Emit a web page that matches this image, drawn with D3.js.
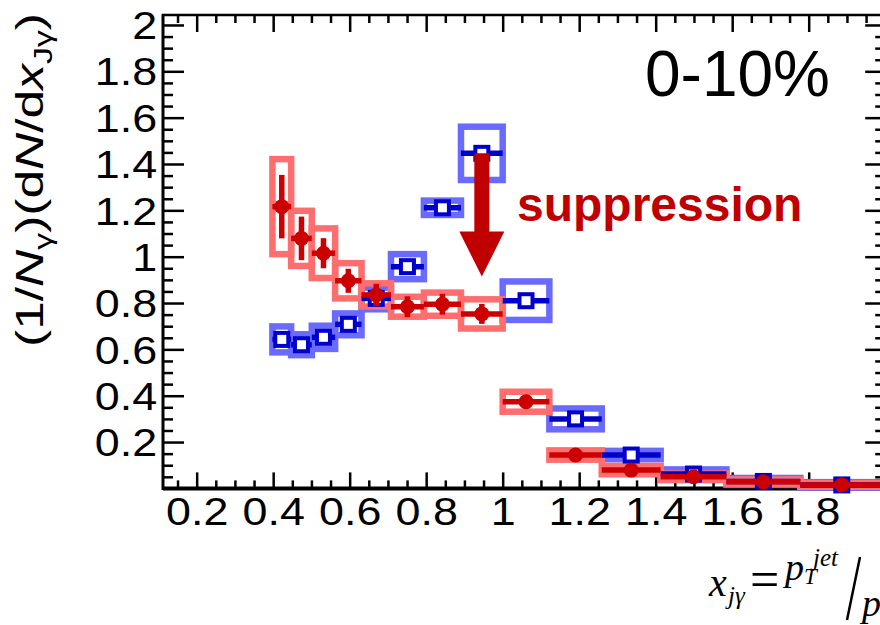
<!DOCTYPE html>
<html>
<head>
<meta charset="utf-8">
<script src="https://cdn.jsdelivr.net/npm/d3@7"></script>
<style>
  html, body { margin: 0; padding: 0; background: #fff; overflow: hidden; }
  svg { display: block; }
  text { font-family: "Liberation Sans", Arial, Helvetica, sans-serif; }
  text.math { font-family: "Liberation Serif", "Times New Roman", serif; font-style: italic; }
  text.math.up { font-style: normal; }
</style>
</head>
<body>
<svg id="chart" width="880" height="625"></svg>
<script>
// x_Jγ bins (lower / upper edges)
const binLo = [0.398, 0.447, 0.501, 0.562, 0.631, 0.708, 0.794, 0.891, 1.000, 1.122, 1.259, 1.413, 1.585, 1.778];
const binHi = [0.447, 0.501, 0.562, 0.631, 0.708, 0.794, 0.891, 1.000, 1.122, 1.259, 1.413, 1.585, 1.778, 1.995];

// Pb+Pb 0-10% (red, filled circles)
const redVal  = [1.216, 1.079, 1.015, 0.896, 0.835, 0.784, 0.795, 0.753, 0.374, 0.144, 0.079, 0.050, 0.029, 0.015];
const redStat = [0.137, 0.094, 0.065, 0.052, 0.048, 0.045, 0.045, 0.043, 0.020, 0.010, 0.008, 0.006, 0.005, 0.004];
const redSys  = [0.205, 0.119, 0.107, 0.076, 0.050, 0.043, 0.050, 0.063, 0.043, 0.020, 0.018, 0.014, 0.010, 0.008];

// pp reference (blue, open squares)
const blueVal  = [0.643, 0.620, 0.652, 0.708, 0.820, 0.957, 1.211, 1.446, 0.810, 0.300, 0.144, 0.062, 0.030, 0.015];
const blueStat = [0.020, 0.020, 0.020, 0.020, 0.020, 0.020, 0.020, 0.020, 0.020, 0.015, 0.010, 0.008, 0.006, 0.005];
const blueSys  = [0.056, 0.045, 0.050, 0.047, 0.047, 0.054, 0.031, 0.115, 0.083, 0.045, 0.018, 0.020, 0.015, 0.012];

// axis tick labels
const xTickLabels = [0.2, 0.4, 0.6, 0.8, 1, 1.2, 1.4, 1.6, 1.8];
const yTickLabels = [0.2, 0.4, 0.6, 0.8, 1, 1.2, 1.4, 1.6, 1.8, 2];

// annotation: drop from the pp peak
const arrowFrom = 1.446, arrowTo = 0.914, arrowBin = 7;

const svg = d3.select("#chart");
const x = d3.scaleLinear().domain([0.112, 2.0]).range([163, 885.2]);
const y = d3.scaleLinear().domain([0, 2.043]).range([488.4, 15]);

const COL = {
  redBox: "#ff6e6e", red: "#cc0000",
  blueBox: "#6a6aff", blue: "#0000cc",
  note: "#c00000"
};

const series = (vals, stat, sys) => vals.map((v, i) => ({
  lo: binLo[i], hi: binHi[i], c: (binLo[i] + binHi[i]) / 2, v, stat: stat[i], sys: sys[i]
}));
const red = series(redVal, redStat, redSys);
const blue = series(blueVal, blueStat, blueSys);

// ---- axes (ticks on all four sides, pointing inward) ----
const minorX = d3.range(3, 40).map(k => +(k * 0.05).toFixed(2)).filter(v => Math.abs(v * 5 - Math.round(v * 5)) > 1e-6);
const minorY = d3.range(1, 41).map(k => +(k * 0.05).toFixed(2)).filter(v => Math.abs(v * 5 - Math.round(v * 5)) > 1e-6);
const majorXAll = xTickLabels.concat([2.0]);

function addAxis(axis, tx, ty) {
  const g = svg.append("g").attr("transform", `translate(${tx},${ty})`).call(axis);
  g.select(".domain").remove();
  g.selectAll(".tick line").attr("stroke", "#000").attr("stroke-width", 2.5);
  return g;
}
const fmt = d3.format("~g");

// bottom
const gb = addAxis(d3.axisBottom(x).tickValues(xTickLabels).tickSize(-16).tickPadding(10).tickFormat(fmt), 0, 488.4);
addAxis(d3.axisBottom(x).tickValues(minorX).tickSize(-8).tickFormat(""), 0, 488.4);
// top
addAxis(d3.axisTop(x).tickValues(majorXAll).tickSize(-17).tickFormat(""), 0, 15);
addAxis(d3.axisTop(x).tickValues(minorX).tickSize(-8).tickFormat(""), 0, 15);
// left
const gl = addAxis(d3.axisLeft(y).tickValues(yTickLabels).tickSize(-21).tickPadding(5).tickFormat(fmt), 163, 0);
addAxis(d3.axisLeft(y).tickValues(minorY).tickSize(-10).tickFormat(""), 163, 0);
// right
addAxis(d3.axisRight(y).tickValues(yTickLabels).tickSize(-20).tickFormat(""), 885.2, 0);
addAxis(d3.axisRight(y).tickValues(minorY).tickSize(-10).tickFormat(""), 885.2, 0);

[gb, gl].forEach(g => g.selectAll(".tick text")
  .attr("font-family", "'Liberation Sans', Arial, sans-serif")
  .attr("font-size", 38).attr("fill", "#000"));
gb.selectAll(".tick text").attr("transform", "scale(1.18,1)");
gl.selectAll(".tick text").attr("dy", "0.36em").attr("transform", "scale(1.18,1)");

// frame
svg.append("line").attr("x1", 163).attr("x2", 886).attr("y1", 488.4).attr("y2", 488.4).attr("stroke", "#000").attr("stroke-width", 4);
svg.append("line").attr("x1", 163).attr("x2", 163).attr("y1", 14).attr("y2", 490).attr("stroke", "#000").attr("stroke-width", 3);
svg.append("line").attr("x1", 162).attr("x2", 886).attr("y1", 15).attr("y2", 15).attr("stroke", "#000").attr("stroke-width", 2.5);
svg.append("line").attr("x1", 885.2).attr("x2", 885.2).attr("y1", 15).attr("y2", 488).attr("stroke", "#000").attr("stroke-width", 3);

// ---- data ----
const plot = svg.append("g");

function boxes(data, color) {
  plot.append("g").selectAll("rect").data(data).join("rect")
    .attr("x", d => x(d.lo)).attr("width", d => x(d.hi) - x(d.lo))
    .attr("y", d => y(d.v + d.sys)).attr("height", d => y(d.v - d.sys) - y(d.v + d.sys))
    .attr("fill", "none").attr("stroke", color).attr("stroke-width", 6.5);
}
function errorBars(data, color) {
  const g = plot.append("g").attr("stroke", color).attr("stroke-width", 5.5);
  g.selectAll("line.h").data(data).join("line").attr("class", "h")
    .attr("x1", d => x(d.lo)).attr("x2", d => x(d.hi))
    .attr("y1", d => y(d.v)).attr("y2", d => y(d.v));
  g.selectAll("line.v").data(data).join("line").attr("class", "v")
    .attr("x1", d => x(d.c)).attr("x2", d => x(d.c))
    .attr("y1", d => y(d.v - d.stat)).attr("y2", d => y(d.v + d.stat));
}

boxes(blue, COL.blueBox);
boxes(red, COL.redBox);
errorBars(blue, COL.blue);
plot.append("g").selectAll("rect").data(blue).join("rect")
  .attr("x", d => x(d.c) - 6.5).attr("y", d => y(d.v) - 6.5)
  .attr("width", 13).attr("height", 13)
  .attr("fill", "#fff").attr("stroke", COL.blue).attr("stroke-width", 4);
errorBars(red, COL.red);
plot.append("g").selectAll("circle").data(red).join("circle")
  .attr("cx", d => x(d.c)).attr("cy", d => y(d.v)).attr("r", 7.5)
  .attr("fill", COL.red);

// ---- annotations ----
const ax = x(red[arrowBin].c), ay0 = y(arrowFrom), ay1 = y(arrowTo);
const headH = 45, headW = 45, shaftW = 15;
svg.append("path")
  .attr("d", `M${ax - shaftW / 2},${ay0} L${ax + shaftW / 2},${ay0} L${ax + shaftW / 2},${ay1 - headH} L${ax + headW / 2},${ay1 - headH} L${ax},${ay1} L${ax - headW / 2},${ay1 - headH} L${ax - shaftW / 2},${ay1 - headH} Z`)
  .attr("fill", COL.note);

svg.append("text").attr("x", 517).attr("y", 221)
  .attr("font-size", 48).attr("font-weight", "bold").attr("fill", COL.note)
  .text("suppression");

svg.append("text").attr("x", 830).attr("y", 96).attr("text-anchor", "end")
  .attr("font-size", 64).attr("fill", "#000").text("0-10%");

// y-axis title: (1/Nγ)(dN/dxJγ)
const yt = svg.append("text").attr("text-anchor", "middle").attr("font-size", 38).attr("fill", "#000");
const parts = [
  { t: "(1/" }, { t: "N", it: 1 }, { t: "γ", sub: 1 }, { t: ")(d" }, { t: "N", it: 1 },
  { t: "/d" }, { t: "x", it: 1 }, { t: "Jγ", sub: 1 }, { t: ")" }
];
let shifted = false;
parts.forEach(p => {
  const ts = yt.append("tspan").text(p.t);
  if (p.it) ts.attr("font-style", "italic");
  if (p.sub) { ts.attr("font-size", 25).attr("dy", 9); shifted = true; }
  else if (shifted) { ts.attr("dy", -9); shifted = false; }
});
const tlen = yt.node().getComputedTextLength();
yt.attr("transform", `translate(43,180) rotate(-90) scale(${334 / tlen},1)`);

// x-axis definition, bottom right: x_jγ = p_T^jet / p_T^γ
const fx = svg.append("g").attr("fill", "#000");
const mt = (cls, xx, yy, size, s) => fx.append("text").attr("class", cls)
  .attr("x", xx).attr("y", yy).attr("font-size", size).text(s);
mt("math", 709, 596, 40, "x");
mt("math", 728, 604, 25, "jγ");
mt("math up", 750, 597, 52, "=");
mt("math", 785, 580, 38, "p");
mt("math", 804, 584, 23, "T");
mt("math", 813, 566, 25, "jet");
svg.append("line").attr("x1", 860).attr("y1", 557).attr("x2", 847).attr("y2", 620)
  .attr("stroke", "#000").attr("stroke-width", 2.5);
mt("math", 862, 616, 38, "p");
</script>
</body>
</html>
